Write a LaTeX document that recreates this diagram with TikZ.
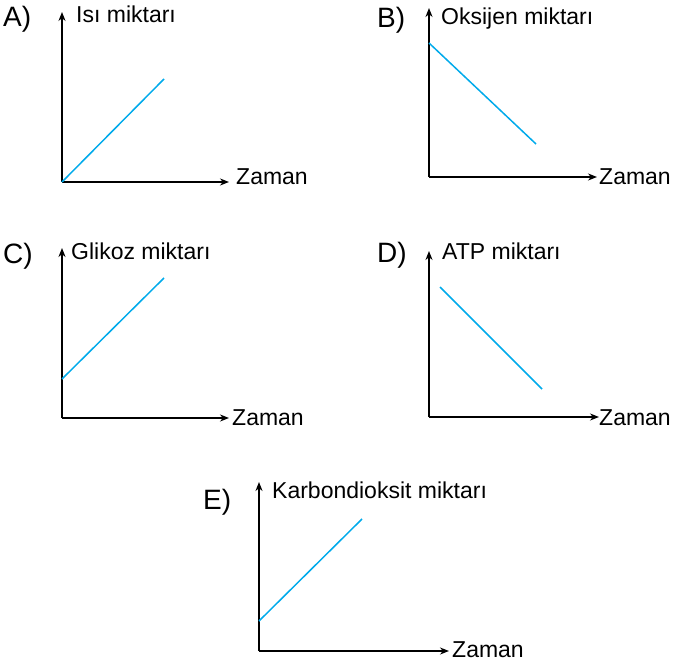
\documentclass[tikz,border=0pt]{standalone}
\usepackage{fontspec}
\setmainfont{Liberation Sans}
\usepackage{tikz}
\usetikzlibrary{arrows.meta}
\definecolor{graphblue}{RGB}{0,170,235}

\begin{document}
\begin{tikzpicture}[x=1pt, y=-1pt,
	axis_line/.style={draw=black, line width=1.5pt, -{Stealth[length=9pt,width=7pt]}},
	data_line/.style={draw=graphblue, line width=1.5pt},
	opt_label/.style={font=\fontsize{28}{32}\selectfont, inner sep=0pt, anchor=base west},
	axis_label/.style={font=\fontsize{23}{27}\selectfont, inner sep=0pt, anchor=base west}]
	
	\useasboundingbox (0,0) rectangle (675,663);
	
	% A) Isi miktari
	\coordinate (A-o) at (62,182);
	\coordinate (A-y) at (62,12);
	\coordinate (A-x) at (229,182);
	\coordinate (A-s) at (62,182);
	\coordinate (A-e) at (164,79);
	\draw[axis_line] (A-o) -- (A-y);
	\draw[axis_line] (A-o) -- (A-x);
	\draw[data_line] (A-s) -- (A-e);
	\node[opt_label] (A-lbl) at (3,27) {A)};
	\node[axis_label] (A-ttl) at (76,23) {Isı miktarı};
	\node[axis_label] (A-zmn) at (236,185) {Zaman};
	
	% B) Oksijen miktari
	\coordinate (B-o) at (429,177);
	\coordinate (B-y) at (429,8);
	\coordinate (B-x) at (597,177);
	\coordinate (B-s) at (429,43);
	\coordinate (B-e) at (536,144);
	\draw[axis_line] (B-o) -- (B-y);
	\draw[axis_line] (B-o) -- (B-x);
	\draw[data_line] (B-s) -- (B-e);
	\node[opt_label] (B-lbl) at (377,28) {B)};
	\node[axis_label] (B-ttl) at (441,25) {Oksijen miktarı};
	\node[axis_label] (B-zmn) at (599,185) {Zaman};
	
	% C) Glikoz miktari
	\coordinate (C-o) at (62,418);
	\coordinate (C-y) at (62,248);
	\coordinate (C-x) at (229,418);
	\coordinate (C-s) at (62,379);
	\coordinate (C-e) at (164,278);
	\draw[axis_line] (C-o) -- (C-y);
	\draw[axis_line] (C-o) -- (C-x);
	\draw[data_line] (C-s) -- (C-e);
	\node[opt_label] (C-lbl) at (3,264) {C)};
	\node[axis_label] (C-ttl) at (71,260) {Glikoz miktarı};
	\node[axis_label] (C-zmn) at (232,425) {Zaman};
	
	% D) ATP miktari
	\coordinate (D-o) at (429,417);
	\coordinate (D-y) at (429,251);
	\coordinate (D-x) at (599,417);
	\coordinate (D-s) at (440,287);
	\coordinate (D-e) at (542,389);
	\draw[axis_line] (D-o) -- (D-y);
	\draw[axis_line] (D-o) -- (D-x);
	\draw[data_line] (D-s) -- (D-e);
	\node[opt_label] (D-lbl) at (377,263) {D)};
	\node[axis_label] (D-ttl) at (442,260) {ATP miktarı};
	\node[axis_label] (D-zmn) at (599,425) {Zaman};
	
	% E) Karbondioksit miktari
	\coordinate (E-o) at (259,651);
	\coordinate (E-y) at (259,482);
	\coordinate (E-x) at (449,651);
	\coordinate (E-s) at (259,621);
	\coordinate (E-e) at (362,519);
	\draw[axis_line] (E-o) -- (E-y);
	\draw[axis_line] (E-o) -- (E-x);
	\draw[data_line] (E-s) -- (E-e);
	\node[opt_label] (E-lbl) at (203,509) {E)};
	\node[axis_label] (E-ttl) at (272,498) {Karbondioksit miktarı};
	\node[axis_label] (E-zmn) at (452,657) {Zaman};
\end{tikzpicture}
\end{document}
